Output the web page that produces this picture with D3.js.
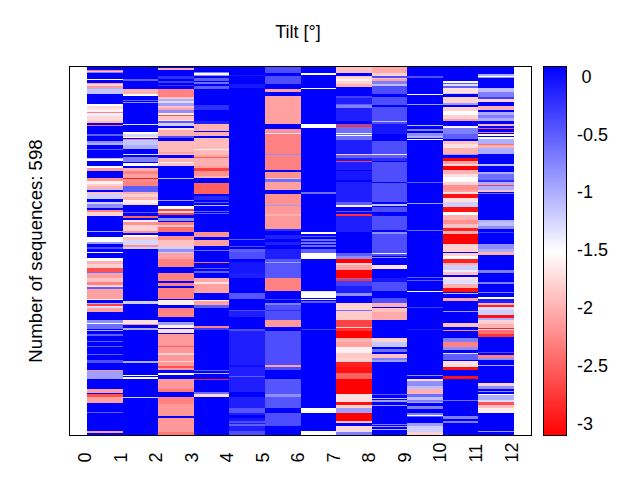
<!DOCTYPE html>
<meta charset="utf-8">
<html>
<head>
  <script src="https://d3js.org/d3.v7.min.js"></script>
  <style>
    html, body { margin: 0; background: #fff; }
    text { font-family: "Liberation Sans", sans-serif; fill: #000; }
  </style>
</head>
<body>
<svg id="svg" width="640" height="480"></svg>
<script>
// each column: [first sequence row, tilt value] runs, a run lasts until the next one starts
const col0 = [[0,.09],[5,-2.3],[8,-1.9],[9,-.72],[11,.09],[20,-1.5],[22,.09],[26,-2.15],[29,-1.8],[32,-2.15],[35,-1],[37,-1.15],[45,.09],[52,-.4],[53,.09],[60,-1.5],[64,-1.75],[69,-1.6],[73,-2.3],[76,-1.4],[81,-1.75],[88,-1.95],[92,.09],[94,-2.4],[96,.09],[109,-.5],[112,.09],[120,-.8],[124,-1],[128,.09],[133,-.5],[136,.09],[148,-1.1],[150,-1.5],[153,.09],[162,-1.5],[165,-2.15],[170,.09],[181,-2.2],[185,-1.6],[190,-1.8],[194,-2],[198,-1.1],[200,.09],[203,-1.9],[206,-1.2],[214,.09],[219,-1.2],[223,-.8],[230,.09],[232,-2.3],[236,-1.8],[242,.09],[266,-1],[268,.09],[277,-1.5],[284,-.9],[288,.09],[293,-.4],[296,.09],[301,-1.5],[302,.09],[311,-1.5],[315,-2],[320,-1.8],[327,-2.6],[333,-.6],[335,-2.1],[342,-1.9],[349,-2.3],[354,-1.8],[358,-.5],[361,-2.1],[376,-1.6],[379,.09],[383,-1],[385,-2.7],[388,-1.3],[392,-2.1],[398,.09],[411,-.8],[415,-1.5],[417,-.6],[425,.09],[427,-1],[429,.09],[434,-.5],[436,.09],[445,-.5],[446,.09],[453,-.5],[455,.09],[466,-.5],[467,.09],[476,-.4],[480,.09],[492,-2.2],[494,-.9],[506,-1.7],[507,.09],[523,-2.1],[529,.09],[531,-2.6],[535,.09],[536,-2.1],[546,.09],[553,-.5],[554,.09],[560,-.5],[561,.09],[569,-.5],[570,.09],[577,-.5],[578,.09],[590,-2.1],[594,.09]];
const col1 = [[0,.09],[21,-.5],[23,.09],[36,-2],[45,-1.5],[48,.09],[54,-.5],[56,.09],[57,-.8],[59,.09],[93,-1.3],[95,.09],[106,-1.5],[110,-1.25],[114,-1.5],[116,.09],[117,-2.3],[119,-1.15],[128,-1],[133,.09],[141,-1.3],[143,.09],[146,-.7],[154,.09],[156,-1.5],[162,.09],[165,-2],[170,-2.3],[175,-2.1],[180,-2.9],[182,-2.2],[186,-2.3],[193,-.5],[203,-2],[206,-1.8],[212,-2],[216,-1.6],[222,-1.75],[225,.09],[236,-.5],[237,.09],[242,-2.5],[246,.09],[248,-1.4],[252,-2.2],[257,-1.8],[266,-2.2],[270,.09],[273,-1.5],[276,-1.9],[281,-1.25],[289,-2.2],[293,-1.2],[296,.09],[380,-1.2],[385,.09],[411,-1.7],[418,-2.2],[419,.09],[424,-1],[427,.09],[478,-1],[480,.09],[500,-1.5],[502,.09],[504,-1.5],[506,.09],[535,-1.2],[537,.09]];
const col2 = [[0,.09],[2,-2],[5,.09],[15,-.2],[20,.09],[24,-.3],[26,.09],[30,-.3],[32,.09],[36,-2.3],[50,-1.9],[53,-1],[56,-1.3],[59,-.9],[64,-1.9],[67,-2.1],[71,-.8],[76,-1.6],[79,-2.6],[81,-1.9],[87,-1.7],[89,-.5],[92,-1.2],[97,.09],[100,-1.7],[103,-2],[112,-.4],[116,.09],[120,-1.95],[138,-2.1],[142,-1.9],[144,.09],[149,-2],[155,-1.5],[157,-1.9],[162,.09],[181,-1.1],[182,.09],[216,-.9],[218,.09],[226,-1.5],[231,-2.7],[234,-1.8],[237,-2.7],[241,.09],[246,-.8],[250,.09],[252,-2.3],[257,-1.9],[260,-2.4],[268,.09],[275,-2.2],[281,-1.9],[292,-1.2],[296,-.8],[301,-1.2],[303,-2.1],[312,-2.3],[325,.09],[334,-2.3],[347,.09],[351,-2.3],[356,.09],[359,-2.3],[376,.09],[379,-1.6],[387,.09],[391,-2.3],[406,.09],[414,-.9],[419,-1.6],[423,.09],[426,-1.7],[432,.09],[434,-2.15],[453,-2.5],[454,-2.15],[465,-1.8],[467,-2.15],[478,-1.8],[479,-2.15],[485,-2.6],[488,-2.15],[492,.09],[497,-1.5],[500,.09],[507,-2.15],[523,-2.35],[528,.09],[535,-2.3],[547,-2.15],[566,.09],[569,-2.15],[593,-2.35]];
const col3 = [[0,.09],[9,-.7],[11,-1.5],[13,-.8],[15,.09],[18,-.5],[23,.09],[25,-.6],[28,.09],[31,-.5],[36,.09],[63,-.2],[70,.09],[73,-.3],[74,.09],[89,-.1],[93,-2],[104,.09],[106,-2],[112,.09],[116,-1.95],[133,-1.6],[135,-1.95],[143,-2.1],[147,-2.5],[149,-2],[162,-2.1],[165,-2.7],[170,-2.2],[177,-2],[180,.09],[188,-2.5],[206,.09],[210,-.15],[216,.09],[219,-.5],[222,.09],[224,-1.1],[226,.09],[234,-.5],[236,.09],[238,-.5],[239,.09],[242,-.5],[243,.09],[268,-2.2],[276,.09],[281,-2.1],[291,.09],[297,-.6],[299,.09],[317,-2.4],[319,.09],[326,-.5],[328,.09],[332,-.5],[335,.09],[343,-2.05],[350,-1.7],[352,-2.1],[367,.09],[378,-1.6],[380,-2.1],[387,-.5],[392,.09],[421,-2.3],[423,.09],[424,-.3],[427,.09],[492,-.5],[494,.09],[497,-1],[499,.09],[506,-2.9],[508,.09],[528,-.6],[531,-1.75],[536,.09]];
const col4 = [[0,.09],[13,-.05],[15,.09],[28,-.05],[35,.09],[280,-.5],[281,.09],[291,-.4],[293,.09],[296,-.5],[301,-.4],[312,.09],[317,-.05],[334,-.1],[343,.09],[367,-.45],[376,.09],[378,-.3],[379,.09],[395,-.4],[396,-.1],[406,.09],[426,-.4],[429,-.1],[484,0],[487,-.1],[502,-.5],[504,-.1],[528,.09],[536,-.1],[554,-.45],[561,-.1],[565,.09],[569,-.05],[574,-.4],[577,-.1],[579,-.5],[582,-.1],[590,-.4]];
const col5 = [[0,-.4],[11,.09],[16,-.4],[28,.09],[36,-2.1],[42,.09],[47,-2.1],[93,.09],[101,-2.2],[108,-1.3],[110,-2.3],[141,-.8],[144,-2.3],[167,.09],[171,-2.2],[180,-1.95],[183,-.6],[187,-2.1],[200,.09],[206,-2.2],[224,-.9],[226,-2.15],[239,-2],[242,-2.15],[263,-.2],[267,.09],[273,-.1],[280,.09],[284,-.1],[289,.09],[295,-.1],[312,-.45],[317,-.9],[319,-.45],[343,-2.3],[364,.09],[376,-.3],[378,.09],[384,-.7],[387,-.4],[395,-.2],[397,-.4],[411,-2.15],[422,.09],[429,-.4],[484,-2.1],[487,-.4],[492,.09],[507,-.45],[531,-.8],[536,-.45],[554,.09],[561,-.4],[574,.09],[575,-.4],[582,.09]];
const col6 = [[0,.09],[11,-1.5],[13,.09],[35,-1.5],[36,.09],[93,-1.5],[96,.09],[97,-1.5],[100,.09],[203,-.6],[206,.09],[268,-1.5],[271,.09],[275,-.5],[277,.09],[280,-.6],[283,.09],[284,-.6],[288,.09],[289,-.6],[293,.09],[296,-.5],[303,-1.5],[312,.09],[364,-1.3],[366,-1.5],[375,.09],[377,-1.5],[379,.09],[380,-.5],[384,.09],[426,-.3],[427,.09],[554,-1.5],[561,.09],[590,-1.5],[592,.09],[593,-1.5]];
const col7 = [[0,-1.9],[11,.09],[16,-1.9],[17,-1.75],[21,-1.6],[24,-1.8],[29,-2],[33,.09],[47,-.3],[51,-.1],[60,-.5],[63,-.7],[67,-.1],[89,.09],[93,-.5],[95,-2.8],[98,-.6],[108,-1.4],[110,-.6],[111,-1.5],[112,-.6],[119,-.1],[141,-1.9],[144,-.5],[149,-.1],[153,-2.7],[154,-.1],[167,.09],[170,-.05],[184,.09],[187,-.1],[219,-.5],[224,-1.6],[227,.09],[234,-.5],[236,.09],[239,-2.8],[242,-.1],[265,-.1],[268,.09],[303,-.5],[307,-.8],[312,-3.1],[319,-1.8],[322,-2.1],[330,-3.1],[343,-.6],[345,-2.8],[348,-.3],[356,-.1],[367,-.8],[372,.09],[384,-1.8],[395,-.6],[397,-1.85],[411,-2.7],[422,-1.8],[424,-2.8],[429,-3.1],[440,-2],[447,-2.1],[455,-1.6],[465,-1.85],[472,-1.8],[479,-2.9],[487,-3],[496,-2.5],[507,-3.1],[531,-1.7],[544,-3],[548,-1.8],[554,-.9],[561,-3.1],[574,-1.9],[577,.09],[582,-1.75],[590,-1.3],[593,-.7]];
const col8 = [[0,-2.05],[11,-1.8],[16,-.4],[18,-1.9],[21,-2.1],[24,-.7],[28,-1.1],[31,-.4],[45,.09],[50,-.4],[62,.09],[66,-.4],[88,-1.1],[90,-.4],[93,-.05],[109,.09],[120,-.4],[141,-1.7],[144,-.5],[149,-.2],[153,.09],[154,-.4],[187,.09],[188,-.4],[219,.09],[223,-1.1],[226,.09],[228,-.4],[236,.09],[242,-.4],[265,.09],[268,-.8],[271,-.4],[302,-1.4],[304,-.4],[307,.09],[308,-.8],[311,.09],[322,-1.7],[328,.09],[343,-.05],[349,-.4],[364,.09],[375,-.4],[384,-2],[390,.09],[392,-1.9],[398,-2.05],[411,.09],[440,-1.8],[447,-1.15],[455,.09],[458,-.6],[463,.09],[466,-1.9],[473,-.7],[476,-.9],[479,.09],[531,-.5],[532,.09],[538,-1.1],[539,.09],[541,-.9],[544,.09],[549,-.9],[550,.09],[553,-1.1],[554,.09],[580,-.7],[581,.09],[583,-.9],[585,.09],[588,-1],[589,.09]];
const col9 = [[0,.09],[16,-.4],[19,.09],[28,-1.2],[29,.09],[45,-1.5],[46,.09],[60,-.9],[63,.09],[94,-1.1],[96,.09],[102,-.7],[105,.09],[108,-.8],[112,-1],[116,.09],[117,-1.5],[119,.09],[187,-.5],[188,.09],[222,-.9],[223,.09],[265,-.6],[267,.09],[341,-.5],[342,.09],[346,-.5],[348,.09],[364,-1.5],[365,.09],[390,-.3],[392,.09],[426,-.1],[427,.09],[500,-.8],[501,.09],[507,-1.7],[510,-.8],[517,-1.1],[523,-2],[530,-.6],[536,-1.1],[541,-.7],[544,-1],[546,.09],[551,-.7],[555,.09],[561,-.7],[564,-1.5],[567,-.5],[568,.09],[577,-.9],[583,-1.2],[592,-1.8]];
const col10 = [[0,.09],[24,-1.5],[26,-.5],[29,-1.3],[31,-.5],[35,-1.7],[43,-1.2],[45,.09],[49,-1.8],[59,-.9],[62,.09],[66,-1.8],[72,-1.5],[78,-1.8],[85,-2.1],[88,.09],[96,-1.6],[100,-.7],[109,-.5],[117,.09],[120,-1.9],[125,-1.7],[132,-2],[141,-.9],[144,.09],[149,-3.1],[153,-2.1],[158,-1.8],[162,-3.1],[167,-2],[175,-1.7],[179,-1.5],[187,-1.8],[192,-2.2],[200,-2.1],[203,-1.7],[206,-3],[213,-1.7],[220,-1.2],[227,-3],[235,-1.5],[241,-2],[248,-2.2],[255,-1.9],[261,-2.9],[266,-2],[271,-3.1],[288,-1.8],[301,.09],[303,-1.8],[307,-1.5],[312,-2.9],[319,-2],[322,-1.2],[330,-1.4],[333,-1.9],[338,.09],[341,-1.7],[346,-1.3],[353,-2],[359,-3],[365,.09],[367,-1.1],[369,.09],[375,-2.1],[380,.09],[397,-.9],[398,.09],[416,-1.9],[422,.09],[427,-2.2],[429,.09],[440,-.7],[447,-2.3],[454,-.8],[460,.09],[464,-1.3],[466,-.5],[475,.09],[478,-1.7],[487,-3],[492,.09],[502,-3],[506,.09],[522,-1],[523,.09],[541,-.6],[542,.09],[567,-.7],[571,.09],[574,-.7],[577,-1.9],[578,.09]];
const col11 = [[0,.09],[12,-1],[15,-1.5],[17,-.8],[19,.09],[31,-.4],[32,.09],[35,-1.1],[41,-.7],[49,-.3],[52,-1.8],[58,.09],[64,-2],[70,.09],[73,-1],[78,-.7],[83,-1],[88,.09],[93,-2],[96,.09],[100,-2.6],[101,.09],[106,-2.3],[107,.09],[110,-1.5],[112,.09],[115,-1.5],[117,-1],[125,-2.4],[128,-2],[132,-1],[141,.09],[158,-1.1],[162,.09],[171,-1],[175,-.6],[184,-.2],[187,-1],[192,-2.7],[193,-1],[200,-1.9],[203,.09],[205,-.6],[206,.09],[242,-.3],[243,.09],[249,-1],[252,-1.1],[258,-.8],[263,.09],[269,-.3],[270,.09],[288,-.8],[295,-1],[301,-2],[305,.09],[330,-.7],[335,.09],[349,-.7],[353,.09],[357,-.7],[358,.09],[366,-.7],[367,.09],[373,-1.5],[376,-.1],[384,-2],[387,-2.9],[390,-1.3],[394,-1.2],[403,-3],[408,-1],[411,-1.8],[418,-2],[424,-2.9],[425,-1.3],[427,-2.4],[434,-2.8],[439,.09],[463,-.4],[464,.09],[468,-2.3],[473,-.8],[476,.09],[484,-1],[485,.09],[506,-1.2],[507,.09],[513,-1.8],[517,-.8],[523,.09],[526,-.8],[528,.09],[531,-1.5],[533,-1],[541,-1.3],[544,-2.6],[548,-1.9],[554,-1.6],[561,.09],[591,-.9],[592,.09]];
const columns = [col0, col1, col2, col3, col4, col5, col6, col7, col8, col9, col10, col11];
const nSequences = 598;
const xTicks = d3.range(0, 13);
const barTicks = [0, -0.5, -1, -1.5, -2, -2.5, -3];
const tiltRange = [-3.105, 0.087];

let svg = d3.select("#svg");
let frame = {left: 69.5, right: 531.5, top: 66.5, bottom: 435.5};

let x = d3.scaleLinear().domain([-0.5, 12.5]).range([frame.left, frame.right]);
let y = d3.scaleLinear().domain([0, nSequences]).range([frame.top, frame.bottom]);
let tiltMid = (tiltRange[0] + tiltRange[1]) / 2;
let color = d3.scaleLinear()
  .domain([tiltRange[0], tiltMid, tiltRange[1]])
  .range(["#ff0000", "#ffffff", "#0000ff"])
  .clamp(true);

// heatmap columns
columns.forEach((runs, i) => {
  svg.append("g").selectAll("rect")
    .data(runs)
    .enter().append("rect")
    .attr("x", x(i))
    .attr("width", x(i + 1) - x(i))
    .attr("y", d => y(d[0]))
    .attr("height", (d, j) => y(j + 1 < runs.length ? runs[j + 1][0] : nSequences) - y(d[0]))
    .attr("fill", d => color(d[1]))
    .attr("shape-rendering", "crispEdges");
});

svg.append("rect")
  .attr("x", frame.left).attr("y", frame.top)
  .attr("width", frame.right - frame.left).attr("height", frame.bottom - frame.top)
  .attr("fill", "none").attr("stroke", "#000").attr("stroke-width", 1);

// x tick labels sit on the column edges, rotated
let xAxis = svg.append("g")
  .attr("transform", `translate(0,${frame.bottom})`)
  .call(d3.axisBottom(x).tickValues(xTicks).tickSize(0).tickFormat(d3.format("d")));
xAxis.select(".domain").remove();
xAxis.selectAll("text")
  .attr("font-size", 18)
  .attr("text-anchor", "start")
  .attr("transform", "rotate(-90)")
  .attr("x", -27)
  .attr("y", -3)
  .attr("dy", "0.35em");

// colour bar
let bar = {left: 543.5, right: 566.5};
let barY = d3.scaleLinear().domain(tiltRange).range([frame.bottom, frame.top]);
let barSteps = d3.range(frame.top, frame.bottom);
svg.append("g").selectAll("rect")
  .data(barSteps)
  .enter().append("rect")
  .attr("x", bar.left)
  .attr("width", bar.right - bar.left)
  .attr("y", d => d)
  .attr("height", 1)
  .attr("fill", d => color(barY.invert(d + 0.5)))
  .attr("shape-rendering", "crispEdges");
svg.append("rect")
  .attr("x", bar.left).attr("y", frame.top)
  .attr("width", bar.right - bar.left).attr("height", frame.bottom - frame.top)
  .attr("fill", "none").attr("stroke", "#000").attr("stroke-width", 1);

let barAxis = svg.append("g")
  .attr("transform", `translate(${bar.right},0)`)
  .call(d3.axisRight(barY).tickValues(barTicks).tickSize(0).tickFormat(d => d));
barAxis.select(".domain").remove();
barAxis.selectAll("text")
  .attr("font-size", 18)
  .attr("text-anchor", "start")
  .attr("x", d => d === 0 ? 15 : 10.5);

svg.append("text")
  .attr("x", 298).attr("y", 38)
  .attr("text-anchor", "middle")
  .attr("font-size", 18)
  .text("Tilt [°]");

svg.append("text")
  .attr("transform", "translate(42,251) rotate(-90)")
  .attr("text-anchor", "middle")
  .attr("font-size", 18.6)
  .text("Number of sequences: 598");
</script>
</body>
</html>
